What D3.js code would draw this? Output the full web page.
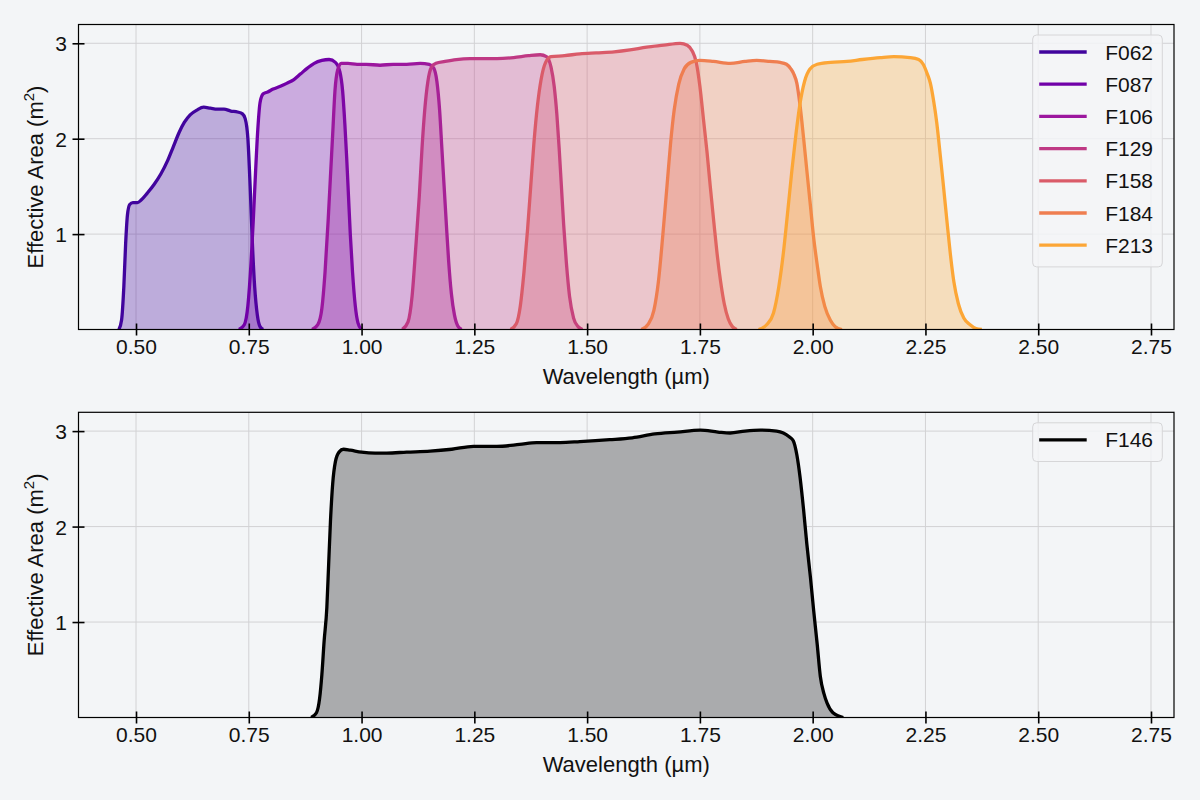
<!DOCTYPE html>
<html>
<head>
<meta charset="utf-8">
<script src="https://cdn.jsdelivr.net/npm/d3@7"></script>
<style>
  body { margin: 0; background: #f3f5f7; }
  svg { display: block; font-family: "Liberation Sans", Arial, sans-serif; }
</style>
</head>
<body>
<div class="main"></div>
<script>
// Filter names (top panel) and effective area curves [wavelength um, area m2]
const filterNames = ["F062", "F087", "F106", "F129", "F158", "F184", "F213"];

const F062 = [[0.462,0],[0.468,0.1],[0.473,0.45],[0.477,0.9],[0.481,1.2],[0.486,1.31],[0.493,1.33],[0.503,1.33],[0.512,1.36],
  [0.525,1.43],[0.540,1.52],[0.555,1.63],[0.570,1.77],[0.583,1.92],[0.595,2.06],[0.607,2.17],[0.620,2.25],[0.635,2.30],
  [0.650,2.33],[0.665,2.32],[0.680,2.31],[0.695,2.31],[0.710,2.29],[0.725,2.28],[0.736,2.26],[0.742,2.21],[0.748,2.0],
  [0.753,1.5],[0.758,0.9],[0.763,0.45],[0.769,0.15],[0.775,0.03],[0.782,0]];
const F087 = [[0.728,0],[0.740,0.05],[0.748,0.25],[0.755,0.7],[0.760,1.15],[0.765,1.65],[0.770,2.1],[0.775,2.38],[0.782,2.47],
  [0.792,2.49],[0.804,2.52],[0.820,2.55],[0.834,2.58],[0.850,2.62],[0.865,2.68],[0.880,2.74],[0.895,2.79],[0.912,2.82],
  [0.928,2.83],[0.942,2.80],[0.952,2.70],[0.958,2.5],[0.963,2.15],[0.967,1.8],[0.971,1.4],[0.975,1.0],[0.980,0.6],
  [0.986,0.25],[0.992,0.07],[1.000,0]];
const F106 = [[0.890,0],[0.903,0.05],[0.912,0.22],[0.919,0.6],[0.926,1.15],[0.931,1.6],[0.936,2.05],[0.941,2.5],[0.947,2.72],
  [0.955,2.79],[0.970,2.79],[0.990,2.78],[1.010,2.78],[1.041,2.77],[1.070,2.78],[1.100,2.78],[1.130,2.79],[1.150,2.78],
  [1.160,2.74],[1.167,2.6],[1.173,2.3],[1.178,1.9],[1.183,1.5],[1.188,1.1],[1.193,0.72],[1.199,0.38],[1.206,0.15],
  [1.213,0.04],[1.222,0]];
const F129 = [[1.090,0],[1.103,0.08],[1.112,0.35],[1.120,0.85],[1.128,1.4],[1.134,1.9],[1.140,2.3],[1.147,2.6],[1.155,2.75],
  [1.165,2.79],[1.185,2.81],[1.210,2.83],[1.240,2.84],[1.270,2.84],[1.300,2.84],[1.337,2.85],[1.370,2.87],[1.396,2.88],
  [1.410,2.86],[1.420,2.75],[1.427,2.55],[1.433,2.25],[1.438,1.9],[1.443,1.5],[1.448,1.1],[1.454,0.7],[1.461,0.35],
  [1.470,0.12],[1.480,0.03],[1.490,0]];
const F158 = [[1.330,0],[1.343,0.06],[1.352,0.25],[1.360,0.6],[1.368,1.05],[1.375,1.5],[1.382,1.95],[1.390,2.35],[1.398,2.62],
  [1.408,2.8],[1.420,2.86],[1.450,2.87],[1.484,2.89],[1.520,2.90],[1.560,2.91],[1.595,2.93],[1.632,2.96],[1.670,2.98],
  [1.706,3.0],[1.722,2.98],[1.733,2.92],[1.742,2.80],[1.750,2.55],[1.758,2.2],[1.766,1.85],[1.773,1.5],[1.781,1.12],
  [1.788,0.8],[1.796,0.5],[1.804,0.27],[1.813,0.11],[1.822,0.03],[1.832,0]];
const F184 = [[1.620,0],[1.636,0.06],[1.648,0.2],[1.658,0.5],[1.668,1.0],[1.677,1.5],[1.685,1.95],[1.693,2.3],[1.703,2.57],
  [1.715,2.73],[1.730,2.80],[1.750,2.82],[1.780,2.81],[1.817,2.79],[1.850,2.81],[1.876,2.82],[1.905,2.81],[1.928,2.80],
  [1.942,2.78],[1.952,2.73],[1.958,2.68],[1.965,2.58],[1.972,2.35],[1.980,2.0],[1.987,1.67],[1.995,1.3],[2.002,0.97],
  [2.010,0.68],[2.017,0.45],[2.027,0.24],[2.039,0.1],[2.050,0.03],[2.065,0]];
const F213 = [[1.880,0],[1.898,0.05],[1.913,0.17],[1.925,0.45],[1.935,0.8],[1.945,1.25],[1.954,1.67],[1.963,2.05],[1.972,2.37],
  [1.982,2.6],[1.994,2.73],[2.010,2.78],[2.040,2.80],[2.076,2.81],[2.110,2.83],[2.150,2.85],[2.180,2.86],[2.216,2.85],
  [2.235,2.83],[2.245,2.78],[2.254,2.68],[2.261,2.58],[2.268,2.4],[2.275,2.17],[2.283,1.82],[2.290,1.5],[2.298,1.12],
  [2.305,0.8],[2.313,0.5],[2.323,0.27],[2.335,0.12],[2.349,0.05],[2.362,0.01],[2.375,0]];

// Wide filter (bottom panel)
const wideName = "F146";
const F146 = [[0.888,0],[0.900,0.05],[0.907,0.2],[0.912,0.45],[0.917,0.8],[0.923,1.15],[0.927,1.6],[0.931,2.05],[0.936,2.45],
  [0.942,2.68],[0.950,2.78],[0.960,2.81],[0.975,2.80],[1.000,2.78],[1.030,2.77],[1.056,2.77],[1.100,2.78],[1.152,2.79],
  [1.200,2.81],[1.248,2.84],[1.300,2.84],[1.350,2.86],[1.388,2.88],[1.440,2.88],[1.484,2.89],[1.550,2.91],[1.600,2.93],
  [1.650,2.97],[1.700,2.99],[1.751,3.01],[1.790,2.99],[1.817,2.98],[1.850,3.0],[1.884,3.01],[1.920,3.0],[1.935,2.98],
  [1.948,2.94],[1.957,2.9],[1.965,2.75],[1.972,2.52],[1.980,2.17],[1.987,1.82],[1.995,1.47],[2.002,1.13],[2.010,0.77],
  [2.017,0.43],[2.025,0.25],[2.032,0.15],[2.045,0.05],[2.068,0]];

const xTicks = [0.50, 0.75, 1.00, 1.25, 1.50, 1.75, 2.00, 2.25, 2.50, 2.75];
const yTicks = [1, 2, 3];

const topSeries = [F062, F087, F106, F129, F158, F184, F213];

let width = 1200, height = 800;
const bg = "#f3f5f7";
const tickFont = 21, labelFont = 22, legendFont = 21;

let svg = d3.select("div.main").append("svg")
  .attr("width", width)
  .attr("height", height);

svg.append("rect").attr("width", width).attr("height", height).attr("fill", bg);

// x scale shared by both panels (y scale made per panel)
let x = d3.scaleLinear().domain([0.3725, 2.801]).range([78.5, 1174]);

// plasma colours, evenly spaced from 0.1 to 0.8
let colors = filterNames.map(function(d, i) {
  return d3.interpolatePlasma(0.1 + 0.7 * i / (filterNames.length - 1));
});

function panel(top, bottom, series, names, cols, fills, fillOpacity, idx) {
  let y = d3.scaleLinear().domain([0, 3.197]).range([bottom, top]);
  let g = svg.append("g");

  g.append("clipPath").attr("id", "clip" + idx)
    .append("rect")
    .attr("x", x.range()[0]).attr("y", top)
    .attr("width", x.range()[1] - x.range()[0]).attr("height", bottom - top);

  // grid
  g.selectAll(".gx").data(xTicks).enter().append("line")
    .attr("x1", d => x(d)).attr("x2", d => x(d))
    .attr("y1", top).attr("y2", bottom)
    .attr("stroke", "#d2d2d4").attr("stroke-width", 1);
  g.selectAll(".gy").data(yTicks).enter().append("line")
    .attr("x1", x.range()[0]).attr("x2", x.range()[1])
    .attr("y1", d => y(d)).attr("y2", d => y(d))
    .attr("stroke", "#d2d2d4").attr("stroke-width", 1);

  let area = d3.area()
    .x(d => x(d[0])).y0(y(0)).y1(d => y(d[1]))
    .curve(d3.curveMonotoneX);
  let line = d3.line()
    .x(d => x(d[0])).y(d => y(d[1]))
    .curve(d3.curveMonotoneX);

  let plot = g.append("g").attr("clip-path", "url(#clip" + idx + ")");
  series.forEach(function(s, i) {
    plot.append("path")
      .attr("d", area(s))
      .attr("fill", fills[i])
      .attr("fill-opacity", fillOpacity);
    plot.append("path")
      .attr("d", line(s))
      .attr("fill", "none")
      .attr("stroke", cols[i])
      .attr("stroke-width", 3.3)
      .attr("stroke-linejoin", "round");
  });

  // frame
  g.append("rect")
    .attr("x", x.range()[0]).attr("y", top)
    .attr("width", x.range()[1] - x.range()[0]).attr("height", bottom - top)
    .attr("fill", "none").attr("stroke", "#000").attr("stroke-width", 1.2);

  // x axis
  let xAxis = g.append("g")
    .attr("transform", "translate(0," + bottom + ")")
    .call(d3.axisBottom(x).tickValues(xTicks).tickFormat(d3.format(".2f")).tickSizeOuter(0));
  xAxis.select(".domain").remove();
  xAxis.selectAll(".tick line").attr("y1", -6).attr("y2", 6).attr("stroke-width", 1.6);
  xAxis.selectAll(".tick text")
    .attr("y", 10).attr("dy", "0.71em")
    .attr("font-size", tickFont).attr("font-family", "Liberation Sans, Arial, sans-serif").attr("fill", "#111");

  // y axis
  let yAxis = g.append("g")
    .attr("transform", "translate(" + x.range()[0] + ",0)")
    .call(d3.axisLeft(y).tickValues(yTicks).tickFormat(d3.format("d")).tickSizeOuter(0));
  yAxis.select(".domain").remove();
  yAxis.selectAll(".tick line").attr("x1", -6).attr("x2", 6).attr("stroke-width", 1.6);
  yAxis.selectAll(".tick text")
    .attr("x", -11.5).attr("dy", "0.36em")
    .attr("font-size", tickFont).attr("font-family", "Liberation Sans, Arial, sans-serif").attr("fill", "#111");

  // axis labels
  g.append("text")
    .attr("x", (x.range()[0] + x.range()[1]) / 2)
    .attr("y", bottom + 54)
    .attr("text-anchor", "middle")
    .attr("font-size", labelFont).attr("fill", "#111")
    .text("Wavelength (µm)");

  let yl = g.append("text")
    .attr("transform", "translate(43," + (top + bottom) / 2 + ")rotate(-90)")
    .attr("text-anchor", "middle")
    .attr("font-size", labelFont).attr("fill", "#111");
  yl.append("tspan").text("Effective Area (m");
  yl.append("tspan").attr("dy", -9).attr("font-size", 15).text("2");
  yl.append("tspan").attr("dy", 9).text(")");

  // legend
  let rowH = 32.2;
  let lx1 = x.range()[1] - 11.7, lx0 = lx1 - 129.6;
  let ly0 = top + 10.5;
  let lh = names.length * rowH + 6.5;
  let leg = g.append("g");
  leg.append("rect")
    .attr("x", lx0).attr("y", ly0)
    .attr("width", lx1 - lx0).attr("height", lh)
    .attr("rx", 4).attr("ry", 4)
    .attr("fill", bg).attr("fill-opacity", 0.85)
    .attr("stroke", "#d6d6d8").attr("stroke-width", 1);
  names.forEach(function(n, i) {
    let cy = ly0 + 17 + i * rowH;
    leg.append("line")
      .attr("x1", lx0 + 6.5).attr("x2", lx0 + 54)
      .attr("y1", cy).attr("y2", cy)
      .attr("stroke", cols[i]).attr("stroke-width", 3.3);
    leg.append("text")
      .attr("x", lx0 + 72.5).attr("y", cy).attr("dy", "0.36em")
      .attr("font-size", legendFont).attr("fill", "#111")
      .text(n);
  });
}

panel(24.5, 329.5, topSeries, filterNames, colors, colors, 0.3, 0);
panel(412.3, 717.5, [F146], [wideName], ["#000000"], ["#aaabad"], 1, 1);
</script>
</body>
</html>
